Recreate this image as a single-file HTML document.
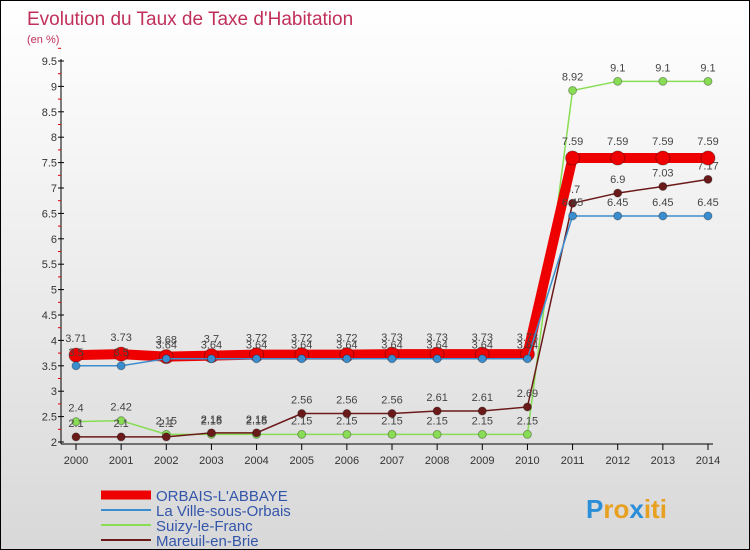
<!DOCTYPE html>
<html><head><meta charset="utf-8"><style>
body{margin:0;}
#c{width:748px;height:548px;border:1px solid #000;position:relative;overflow:hidden;background:linear-gradient(#fff 0%,#f4f4f4 30%,#d8d8d8 100%);font-family:"Liberation Sans",sans-serif;}
</style></head><body>
<div id="c">
<svg id="s" width="748" height="548"></svg>
</div>
<script>
const years=[2000,2001,2002,2003,2004,2005,2006,2007,2008,2009,2010,2011,2012,2013,2014];
const orbais=[3.71,3.73,3.68,3.7,3.72,3.72,3.72,3.73,3.73,3.73,3.73,7.59,7.59,7.59,7.59];
const ville=[3.5,3.5,3.64,3.64,3.64,3.64,3.64,3.64,3.64,3.64,3.64,6.45,6.45,6.45,6.45];
const suizy=[2.4,2.42,2.15,2.15,2.15,2.15,2.15,2.15,2.15,2.15,2.15,8.92,9.1,9.1,9.1];
const mareuil=[2.1,2.1,2.1,2.18,2.18,2.56,2.56,2.56,2.61,2.61,2.69,6.7,6.9,7.03,7.17];
const yTicks=[2,2.5,3,3.5,4,4.5,5,5.5,6,6.5,7,7.5,8,8.5,9,9.5];
const seriesNames=["ORBAIS-L'ABBAYE","La Ville-sous-Orbais","Suizy-le-Franc","Mareuil-en-Brie"];
const NS="http://www.w3.org/2000/svg";
const svg=document.getElementById('s');
const X=i=>75+i*(632/14);
const Y=v=>441-(v-2)*(381/7.5);
function el(t,a,p){const e=document.createElementNS(NS,t);for(const k in a)e.setAttribute(k,a[k]);(p||svg).appendChild(e);return e;}
function txt(x,y,s,a){const e=el('text',Object.assign({x:x,y:y,'font-size':11,fill:'#444'},a||{}));e.textContent=s;return e;}
let t=txt(26,24,'Evolution du Taux de Taxe d\'Habitation',{'font-size':19,fill:'#c0305a'});

t=txt(26,42,'(en %)',{'font-size':11,fill:'#c0305a'});

// axes
let a=el('line',{x1:60,y1:58,x2:60,y2:443,stroke:'#000'});

a=el('line',{x1:60,y1:443,x2:712,y2:443,stroke:'#000'});

yTicks.forEach(v=>{
 el('line',{x1:57,y1:Y(v),x2:63,y2:Y(v),stroke:'#000'});
 el('line',{x1:57,y1:Y(v+0.25),x2:60,y2:Y(v+0.25),stroke:'#d00'});
 const l=txt(56,Y(v)+4,String(v),{'text-anchor':'end',fill:'#333'});
 
});
years.forEach((yr,i)=>{
 el('line',{x1:X(i),y1:443,x2:X(i),y2:449,stroke:'#000'});
 const l=txt(X(i),463,String(yr),{'text-anchor':'middle',fill:'#333'});
 
});
function series(vals,color,lw,r,name,labDy){
 const g=el('g',{});
 
 el('polyline',{points:vals.map((v,i)=>X(i)+','+Y(v)).join(' '),fill:'none',stroke:color,'stroke-width':lw},g);
 vals.forEach((v,i)=>{
  const c=el('circle',{cx:X(i),cy:Y(v),r:r,fill:color,stroke:'rgba(0,0,0,0.3)','stroke-width':1},g);
  
  const l=txt(X(i),Y(v)-labDy,String(v),{'text-anchor':'middle',fill:'#444','font-size':11},g);
  
 });
}
series(suizy,'#88dd55',1.5,4,'series-suizy',10);
series(mareuil,'#6b1a1a',1.5,4,'series-mareuil',10);
series(orbais,'#ee0000',10,7,'series-orbais',13);
series(ville,'#3a8ed0',1.5,4,'series-ville',10);
// legend
const cols=['#ee0000','#3a8ed0','#88dd55','#6b1a1a'];const lws=[9,2,2,2];
seriesNames.forEach((n,i)=>{
 const y=494+i*15;
 const g=el('g',{});
 
 el('line',{x1:100,y1:y,x2:150,y2:y,stroke:cols[i],'stroke-width':lws[i]},g);
 txt(155,y+6,n,{'font-size':15,fill:'#3355aa'},g);
});
// logo
const lg=el('text',{x:585,y:517,'font-size':26,'font-weight':'bold','font-family':'Liberation Sans,sans-serif'});

[['P','#2a8fd8'],['ro','#e8a020'],['x','#2a8fd8'],['iti','#e8a020']].forEach(p=>{const s=el('tspan',{fill:p[1]},lg);s.textContent=p[0];});
</script>
</body></html>
